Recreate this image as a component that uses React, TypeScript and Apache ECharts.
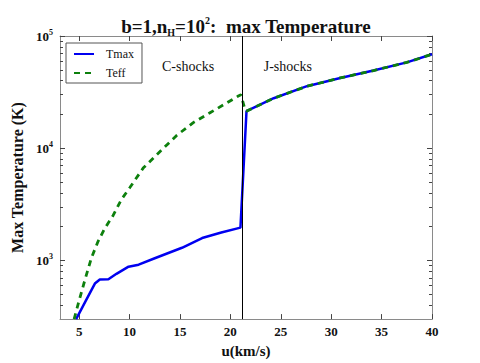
import React, { useEffect, useRef } from "react";
import * as echarts from "echarts";

// Tmax (blue, solid)
const uMax = [4.7, 5.6, 6.56, 7.05, 7.9, 8.7, 9.9, 10.9, 12.5, 15.2, 17.2, 19.1, 21.0, 21.6, 24.3, 27.6, 30.9, 34.2, 37.5, 40];
const tMax = [300, 427, 622, 676, 680, 760, 880, 916, 1046, 1297, 1584, 1774, 1960, 21400, 27900, 35700, 42300, 49200, 58200, 68700];
// Teff (green, dashed)
const uEff = [4.5, 5.0, 5.56, 6.23, 6.88, 7.55, 8.37, 9.2, 10.03, 11.35, 13.0, 14.67, 16.32, 17.98, 19.63, 20.79, 21.05, 21.45, 21.6, 24.3, 27.6, 30.9, 34.2, 37.5, 40];
const tEff = [300, 440, 665, 1062, 1480, 1935, 2520, 3500, 4460, 6650, 9300, 13000, 16900, 20700, 25300, 29200, 30000, 22100, 21400, 27900, 35700, 42300, 49200, 58200, 68700];

const xTicks = [5, 10, 15, 20, 25, 30, 35, 40];
const yMajor = [1000, 10000, 100000];
const yMinor = [400, 500, 600, 700, 800, 900, 2000, 3000, 4000, 5000, 6000, 7000, 8000, 9000, 20000, 30000, 40000, 50000, 60000, 70000, 80000, 90000];
const shockU = 21.2;
const regionLabels = [
  { name: "C-shocks", u: 15.8, t: 53000 },
  { name: "J-shocks", u: 25.7, t: 53000 },
];

const SERIF = "'Liberation Serif', 'DejaVu Serif', serif";
const AX = "#8a8a8a";
const TK = "#444";

export default function App() {
  const ref = useRef<HTMLDivElement>(null);
  useEffect(() => {
    if (!ref.current) return;
    const chart = echarts.init(ref.current, null, { renderer: "svg" });
    const xBase = {
      type: "value" as const,
      min: 3.1,
      max: 40,
      gridIndex: 0,
      splitLine: { show: false },
      axisLine: { show: true, onZero: false, lineStyle: { color: AX, width: 1 } },
      axisTick: { show: true, inside: true, length: 5, customValues: xTicks, lineStyle: { color: TK } },
    };
    const yBase = {
      type: "log" as const,
      logBase: 10,
      min: 300,
      max: 100000,
      splitLine: { show: false },
      minorTick: { show: false },
    };
    const tickFmt = (v: number) => {
      const e = Math.round(Math.log10(v));
      return `{b|10}{s|${e}}`;
    };
    chart.setOption({
      animation: false,
      grid: { left: 60, right: 48, top: 36, bottom: 37, containLabel: false },
      graphic: [
        {
          type: "text",
          x: 246,
          y: 26,
          style: {
            text: "{t|b=1,n}{sub|H}{t|=10}{sup|2}{t|:  max Temperature}",
            textAlign: "center",
            textVerticalAlign: "middle",
            rich: {
              t: { fontFamily: SERIF, fontWeight: "bold", fontSize: 19, lineHeight: 22, fill: "#111" },
              sub: { fontFamily: SERIF, fontWeight: "bold", fontSize: 10, lineHeight: 10, verticalAlign: "bottom", fill: "#111" },
              sup: { fontFamily: SERIF, fontWeight: "bold", fontSize: 10, lineHeight: 11, verticalAlign: "top", fill: "#111" },
            },
          },
        },
      ],
      legend: {
        data: ["Tmax", "Teff"],
        orient: "vertical",
        left: 66,
        top: 43,
        itemWidth: 20,
        itemHeight: 10,
        itemGap: 7,
        padding: [5, 8, 4, 7],
        backgroundColor: "#fff",
        borderColor: "#555",
        borderWidth: 1,
        itemStyle: { opacity: 0 },
        textStyle: { fontFamily: SERIF, fontSize: 12, color: "#111", padding: [0, 0, 0, 7] },
      },
      xAxis: [
        {
          ...xBase,
          position: "bottom",
          name: "u(km/s)",
          nameLocation: "middle",
          nameGap: 18,
          nameTextStyle: { fontFamily: SERIF, fontWeight: "bold", fontSize: 15, color: "#111" },
          axisLabel: { customValues: xTicks, fontFamily: SERIF, fontWeight: "bold", fontSize: 13, color: "#111", margin: 6 },
        },
        { ...xBase, position: "top", axisLabel: { show: false } },
      ],
      yAxis: [
        {
          ...yBase,
          position: "left",
          name: "Max Temperature (K)",
          nameLocation: "middle",
          nameRotate: 90,
          nameGap: 30,
          nameTextStyle: { fontFamily: SERIF, fontWeight: "bold", fontSize: 16, color: "#111" },
          axisLine: { show: true, lineStyle: { color: AX, width: 1 } },
          axisTick: { show: true, inside: true, length: 5, customValues: yMajor, lineStyle: { color: TK } },
          axisLabel: {
            customValues: yMajor,
            margin: 7,
            formatter: tickFmt,
            rich: {
              b: { fontFamily: SERIF, fontWeight: "bold", fontSize: 13, lineHeight: 16, color: "#111" },
              s: { fontFamily: SERIF, fontWeight: "bold", fontSize: 8, lineHeight: 9, verticalAlign: "top", color: "#111" },
            },
          },
        },
        {
          ...yBase,
          position: "left",
          axisLine: { show: false },
          axisTick: { show: true, inside: true, length: 3, customValues: yMinor, lineStyle: { color: TK } },
          axisLabel: { show: false },
        },
        {
          ...yBase,
          position: "right",
          axisLine: { show: true, lineStyle: { color: AX, width: 1 } },
          axisTick: { show: true, inside: true, length: 5, customValues: yMajor, lineStyle: { color: TK } },
          axisLabel: { show: false },
        },
        {
          ...yBase,
          position: "right",
          axisLine: { show: false },
          axisTick: { show: true, inside: true, length: 3, customValues: yMinor, lineStyle: { color: TK } },
          axisLabel: { show: false },
        },
      ],
      series: [
        {
          name: "Tmax",
          type: "line",
          xAxisIndex: 0,
          yAxisIndex: 0,
          symbol: "none",
          data: uMax.map((u, i) => [u, tMax[i]]),
          lineStyle: { color: "#0000f0", width: 2.5 },
          itemStyle: { color: "#0000f0" },
          markLine: {
            silent: true,
            symbol: "none",
            label: { show: false },
            lineStyle: { color: "#000", width: 1, type: "solid" },
            data: [{ xAxis: shockU }],
          },
          markPoint: {
            symbol: "circle",
            symbolSize: 0,
            label: { show: true, position: "inside", fontFamily: SERIF, fontSize: 14, color: "#111", formatter: (p: any) => p.name },
            data: regionLabels.map((r) => ({ name: r.name, coord: [r.u, r.t] })),
          },
          z: 2,
        },
        {
          name: "Teff",
          type: "line",
          xAxisIndex: 0,
          yAxisIndex: 0,
          symbol: "none",
          data: uEff.map((u, i) => [u, tEff[i]]),
          lineStyle: { color: "#0d800d", width: 2.8, type: [6, 5] },
          itemStyle: { color: "#0d800d" },
          z: 3,
        },
      ],
    });
    return () => chart.dispose();
  }, []);
  return <div ref={ref} style={{ position: "fixed", left: 0, top: 0, width: 480, height: 363, background: "#fff" }} />;
}
